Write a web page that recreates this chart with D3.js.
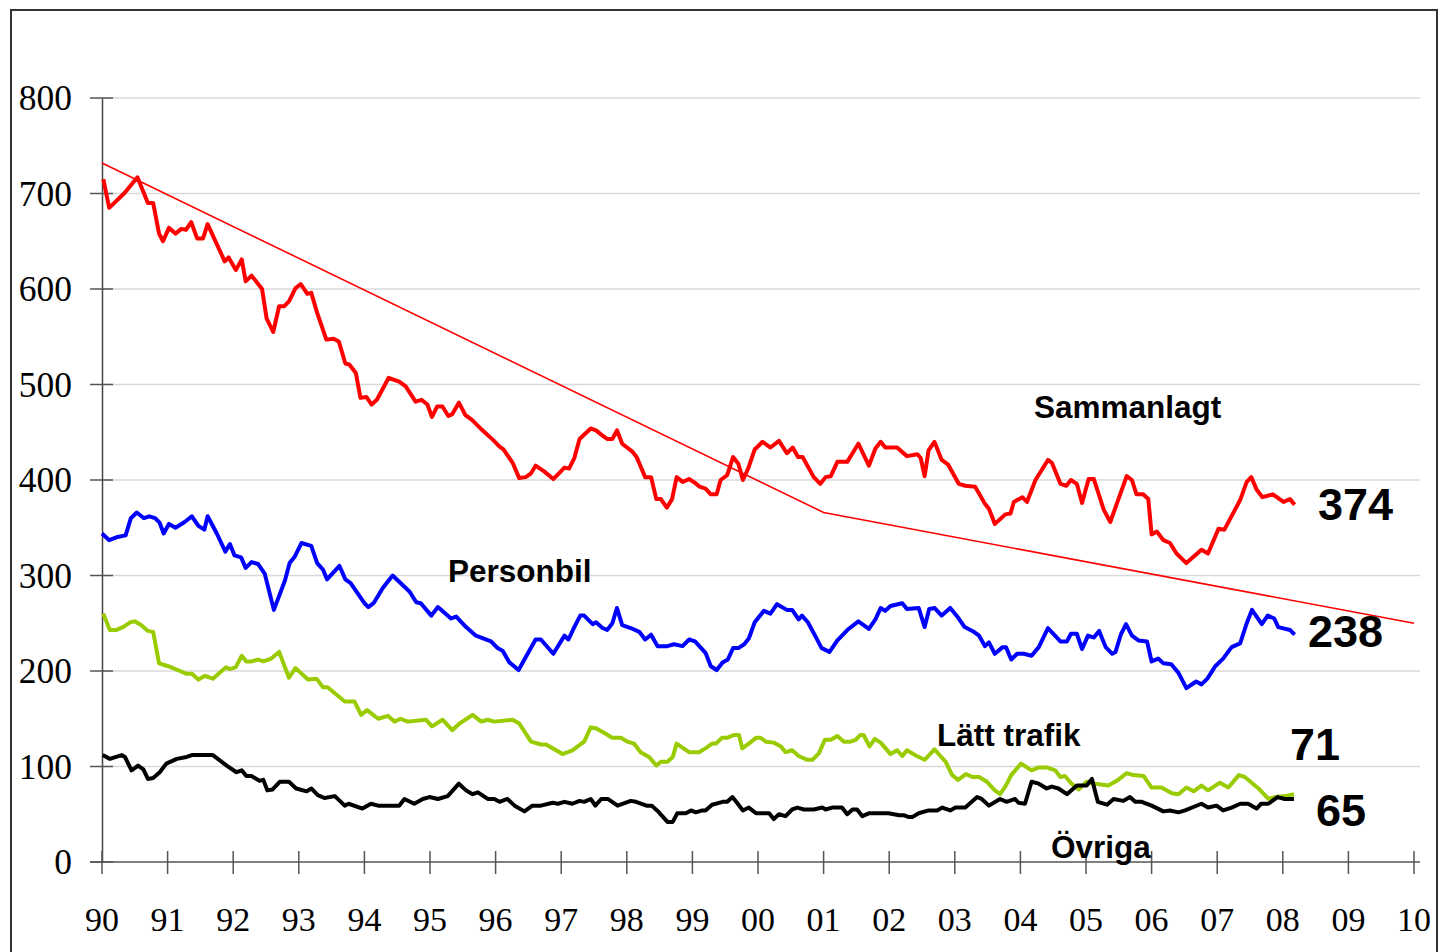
<!DOCTYPE html>
<html>
<head>
<meta charset="utf-8">
<script src="https://cdn.jsdelivr.net/npm/d3@7"></script>
<style>
  html, body { margin: 0; padding: 0; background: #fff; }
  svg { display: block; }
</style>
</head>
<body>
<script>
// ---------- DATA ----------
const yTicks = [0, 100, 200, 300, 400, 500, 600, 700, 800];
const xTickYears = [1990,1991,1992,1993,1994,1995,1996,1997,1998,1999,2000,2001,2002,2003,2004,2005,2006,2007,2008,2009,2010];
const xTickLabels = ["90","91","92","93","94","95","96","97","98","99","00","01","02","03","04","05","06","07","08","09","10"];

const trendYears = [1990, 2001, 2010];
const trendValues = [732, 366, 250];

const sammanlagtYears = [1990.02,1990.11,1990.35,1990.54,1990.70,1990.78,1990.87,1990.93,1991.02,1991.12,1991.21,1991.28,1991.36,1991.45,1991.54,1991.61,1991.87,1991.93,1992.04,1992.13,1992.19,1992.28,1992.44,1992.51,1992.61,1992.70,1992.78,1992.85,1992.95,1993.03,1993.13,1993.19,1993.28,1993.42,1993.53,1993.61,1993.71,1993.77,1993.87,1993.94,1994.03,1994.11,1994.19,1994.37,1994.53,1994.63,1994.78,1994.87,1994.96,1995.03,1995.11,1995.19,1995.28,1995.34,1995.44,1995.54,1995.64,1995.80,1995.96,1996.06,1996.12,1996.26,1996.36,1996.46,1996.54,1996.61,1996.74,1996.88,1997.05,1997.12,1997.20,1997.28,1997.45,1997.53,1997.62,1997.70,1997.78,1997.85,1997.93,1998.08,1998.15,1998.28,1998.37,1998.45,1998.52,1998.61,1998.69,1998.76,1998.85,1998.95,1999.04,1999.11,1999.20,1999.28,1999.37,1999.43,1999.53,1999.62,1999.70,1999.77,1999.85,1999.95,2000.07,2000.19,2000.32,2000.44,2000.53,2000.61,2000.68,2000.85,2000.95,2001.03,2001.11,2001.21,2001.36,2001.53,2001.69,2001.79,2001.87,2001.94,2002.12,2002.27,2002.43,2002.48,2002.54,2002.60,2002.69,2002.80,2002.90,2003.06,2003.16,2003.31,2003.46,2003.52,2003.61,2003.77,2003.85,2003.90,2004.03,2004.10,2004.23,2004.42,2004.48,2004.61,2004.70,2004.77,2004.86,2004.94,2005.04,2005.12,2005.27,2005.37,2005.62,2005.70,2005.77,2005.87,2005.95,2006.00,2006.08,2006.18,2006.28,2006.38,2006.53,2006.76,2006.86,2007.02,2007.11,2007.35,2007.45,2007.52,2007.60,2007.69,2007.85,2008.01,2008.11,2008.18];
const sammanlagtValues = [715,685,701,717,690,690,658,650,664,658,663,662,670,653,653,668,629,633,620,631,608,614,600,569,555,582,582,587,601,605,595,596,575,547,548,545,522,521,512,486,487,479,484,507,503,498,482,484,479,466,477,477,467,469,481,468,463,452,442,435,432,418,402,403,407,415,409,401,413,412,423,443,454,452,447,443,443,452,438,430,424,403,403,380,380,371,380,403,398,401,397,393,391,385,385,400,405,424,417,400,412,432,440,434,441,428,434,424,424,403,396,403,404,419,419,438,415,433,440,434,434,425,427,423,404,431,440,421,416,396,394,393,375,370,354,364,365,377,382,377,400,421,418,396,394,400,396,376,401,401,369,356,404,400,385,385,380,343,346,337,334,323,313,327,323,349,348,379,398,403,390,382,385,377,380,374];

const personbilYears = [1990.00,1990.11,1990.22,1990.36,1990.44,1990.53,1990.64,1990.72,1990.81,1990.88,1990.94,1991.02,1991.12,1991.26,1991.37,1991.47,1991.56,1991.61,1991.75,1991.88,1991.95,1992.02,1992.12,1992.19,1992.28,1992.38,1992.48,1992.62,1992.79,1992.86,1992.94,1993.04,1993.19,1993.28,1993.37,1993.43,1993.62,1993.71,1993.79,1994.00,1994.06,1994.14,1994.28,1994.43,1994.69,1994.79,1994.86,1995.02,1995.12,1995.32,1995.40,1995.55,1995.70,1995.93,1996.03,1996.11,1996.21,1996.35,1996.61,1996.69,1996.88,1997.05,1997.11,1997.20,1997.29,1997.35,1997.48,1997.53,1997.63,1997.70,1997.78,1997.85,1997.93,1998.06,1998.19,1998.28,1998.37,1998.47,1998.62,1998.72,1998.85,1998.95,1999.04,1999.20,1999.28,1999.37,1999.46,1999.54,1999.62,1999.70,1999.79,1999.86,1999.95,2000.09,2000.19,2000.29,2000.44,2000.52,2000.62,2000.67,2000.76,2000.87,2000.97,2001.09,2001.21,2001.38,2001.53,2001.69,2001.79,2001.87,2001.94,2002.02,2002.20,2002.27,2002.45,2002.54,2002.61,2002.69,2002.80,2002.93,2003.05,2003.15,2003.29,2003.37,2003.46,2003.52,2003.61,2003.73,2003.78,2003.86,2003.95,2004.05,2004.17,2004.28,2004.42,2004.61,2004.71,2004.77,2004.86,2004.94,2005.03,2005.12,2005.20,2005.30,2005.40,2005.45,2005.53,2005.61,2005.70,2005.80,2005.93,2006.00,2006.10,2006.18,2006.30,2006.41,2006.53,2006.68,2006.76,2006.85,2006.97,2007.09,2007.22,2007.35,2007.45,2007.53,2007.68,2007.77,2007.87,2007.93,2008.11,2008.18];
const personbilValues = [344,337,340,342,360,366,360,362,360,355,344,354,350,356,362,352,348,362,344,325,333,321,319,308,314,312,302,264,295,313,320,334,331,313,306,296,310,296,292,271,267,271,287,300,283,272,271,258,267,255,257,246,237,231,224,221,209,201,233,233,218,237,233,246,258,258,249,251,245,243,250,266,248,245,241,233,238,226,226,228,226,233,231,219,205,201,209,212,224,224,228,234,251,263,260,270,264,264,254,258,251,237,224,220,232,244,252,244,254,266,263,268,271,265,266,246,265,266,258,266,256,246,241,237,226,230,218,225,225,212,218,218,216,225,245,231,231,239,239,223,237,235,242,225,218,220,238,249,237,232,231,210,213,208,207,198,182,189,186,192,205,213,225,229,250,264,249,258,255,246,243,238];

const lattYears = [1990.02,1990.12,1990.22,1990.32,1990.43,1990.50,1990.60,1990.70,1990.78,1990.87,1991.01,1991.19,1991.29,1991.37,1991.47,1991.57,1991.69,1991.89,1991.95,1992.04,1992.13,1992.20,1992.28,1992.38,1992.46,1992.58,1992.70,1992.85,1992.95,1993.14,1993.27,1993.37,1993.44,1993.70,1993.85,1993.95,1994.04,1994.21,1994.36,1994.46,1994.55,1994.66,1994.94,1995.03,1995.19,1995.34,1995.45,1995.65,1995.78,1995.88,1995.98,1996.26,1996.36,1996.54,1996.69,1996.77,1997.02,1997.17,1997.35,1997.45,1997.53,1997.66,1997.78,1997.91,1998.01,1998.11,1998.21,1998.34,1998.45,1998.52,1998.62,1998.70,1998.76,1998.82,1998.95,1999.10,1999.20,1999.30,1999.36,1999.45,1999.53,1999.63,1999.71,1999.76,1999.86,1999.97,2000.04,2000.12,2000.24,2000.35,2000.42,2000.52,2000.62,2000.75,2000.83,2000.93,2001.02,2001.11,2001.21,2001.31,2001.41,2001.49,2001.56,2001.61,2001.70,2001.78,2001.87,2002.02,2002.12,2002.20,2002.27,2002.42,2002.54,2002.69,2002.86,2002.96,2003.05,2003.17,2003.27,2003.37,2003.49,2003.61,2003.69,2003.77,2003.86,2004.01,2004.17,2004.28,2004.40,2004.53,2004.61,2004.68,2004.78,2004.89,2005.01,2005.14,2005.34,2005.47,2005.62,2005.72,2005.88,2006.00,2006.15,2006.31,2006.41,2006.53,2006.64,2006.76,2006.86,2007.04,2007.17,2007.33,2007.42,2007.63,2007.78,2007.88,2008.03,2008.17];
const lattValues = [260,243,243,246,251,252,248,242,241,208,205,200,197,197,191,195,192,204,202,204,216,210,210,212,210,213,220,193,203,191,192,183,183,168,168,154,159,150,153,147,150,147,149,142,149,138,145,154,147,149,147,149,145,126,123,123,113,117,126,141,140,135,130,130,126,124,115,110,101,105,105,110,124,121,115,115,119,124,124,130,130,133,133,119,124,130,130,126,125,121,115,117,111,107,107,114,128,128,132,126,126,128,133,133,121,129,125,113,117,111,117,111,107,118,105,91,86,92,89,89,84,75,71,79,91,103,96,99,99,96,89,90,82,76,84,82,80,85,93,91,90,78,78,72,71,78,74,80,75,83,78,91,89,77,66,68,69,71];

const ovrigaYears = [1990.01,1990.12,1990.30,1990.35,1990.45,1990.55,1990.63,1990.70,1990.78,1990.88,1990.98,1991.14,1991.29,1991.37,1991.69,1991.90,1992.05,1992.13,1992.20,1992.28,1992.40,1992.46,1992.52,1992.60,1992.71,1992.85,1992.96,1993.12,1993.19,1993.29,1993.39,1993.55,1993.70,1993.76,1993.97,1994.10,1994.21,1994.53,1994.61,1994.76,1994.89,1994.99,1995.12,1995.27,1995.44,1995.55,1995.65,1995.73,1995.88,1995.98,1996.06,1996.18,1996.29,1996.44,1996.56,1996.69,1996.87,1996.95,1997.05,1997.17,1997.28,1997.35,1997.45,1997.52,1997.61,1997.71,1997.86,1998.06,1998.14,1998.30,1998.38,1998.49,1998.62,1998.70,1998.77,1998.90,1998.98,1999.05,1999.15,1999.20,1999.30,1999.46,1999.53,1999.61,1999.68,1999.77,1999.86,1999.97,2000.17,2000.24,2000.32,2000.42,2000.52,2000.60,2000.70,2000.85,2000.98,2001.03,2001.13,2001.28,2001.36,2001.44,2001.51,2001.59,2001.69,2001.99,2002.15,2002.22,2002.30,2002.35,2002.45,2002.60,2002.73,2002.81,2002.93,2003.01,2003.16,2003.34,2003.41,2003.52,2003.69,2003.79,2003.92,2003.97,2004.07,2004.17,2004.28,2004.40,2004.48,2004.58,2004.71,2004.86,2005.01,2005.09,2005.18,2005.32,2005.42,2005.57,2005.67,2005.75,2005.85,2006.00,2006.18,2006.28,2006.41,2006.51,2006.76,2006.86,2006.99,2007.09,2007.22,2007.35,2007.47,2007.60,2007.67,2007.78,2007.92,2008.03,2008.17];
const ovrigaValues = [112,108,112,110,96,101,97,87,88,94,103,108,110,112,112,101,94,96,90,90,85,86,75,76,84,84,77,74,77,70,67,69,59,61,56,61,59,59,66,61,66,68,66,69,82,75,71,73,66,66,63,66,59,53,59,59,62,61,63,61,64,63,66,59,66,66,59,64,63,59,59,52,42,42,51,51,54,52,54,54,60,63,63,68,62,54,57,51,51,45,50,48,55,57,55,55,57,55,57,57,50,55,55,48,51,51,49,49,47,47,51,54,54,57,54,57,57,68,66,59,66,63,66,62,61,84,82,77,79,77,71,80,80,87,63,60,66,64,68,63,63,59,53,54,52,54,61,57,59,54,57,61,61,56,61,61,68,66,66];

const seriesNames = ["Sammanlagt", "Personbil", "Lätt trafik", "Övriga"];
const endValues = ["374", "238", "71", "65"];

// ---------- CHART ----------
const W = 1441, H = 952;
const svg = d3.select("body").append("svg").attr("width", W).attr("height", H);

const x = d3.scaleLinear().domain([1990, 2010]).range([102, 1414]);
const y = d3.scaleLinear().domain([0, 800]).range([862, 98]);

// frame
svg.append("rect").attr("x", 11).attr("y", 10).attr("width", 1426).attr("height", 970)
  .attr("fill", "none").attr("stroke", "#333").attr("stroke-width", 2);

// gridlines
svg.append("g").selectAll("line").data(yTicks.filter(d => d > 0)).join("line")
  .attr("x1", x(1990)).attr("x2", 1420)
  .attr("y1", d => y(d)).attr("y2", d => y(d))
  .attr("stroke", "#d9d9d9").attr("stroke-width", 1.5);

// y axis
const yAxis = d3.axisLeft(y).tickValues(yTicks).tickSize(0).tickFormat("");
const gy = svg.append("g").attr("transform", `translate(${x(1990)},0)`).call(yAxis);
gy.select(".domain").attr("stroke", "#444").attr("stroke-width", 1.5);
gy.selectAll(".tick line").remove();
svg.append("g").selectAll("line").data(yTicks).join("line")
  .attr("x1", x(1990) - 12).attr("x2", x(1990) + 11)
  .attr("y1", d => y(d)).attr("y2", d => y(d))
  .attr("stroke", "#555").attr("stroke-width", 1.5);
svg.append("g").selectAll("text").data(yTicks).join("text")
  .attr("x", 72).attr("y", d => y(d) + 12)
  .attr("text-anchor", "end")
  .attr("font-family", "'Liberation Serif', 'Times New Roman', serif")
  .attr("font-size", 35.5).attr("fill", "#000")
  .text(d => d);

// x axis
const xAxis = d3.axisBottom(x).tickValues(xTickYears).tickSize(0).tickFormat("");
const gx = svg.append("g").attr("transform", `translate(0,${y(0)})`).call(xAxis);
gx.select(".domain").remove();
svg.append("line").attr("x1", 90).attr("x2", 1420).attr("y1", y(0)).attr("y2", y(0))
  .attr("stroke", "#555").attr("stroke-width", 1.5);
svg.append("g").selectAll("line").data(xTickYears).join("line")
  .attr("x1", d => x(d)).attr("x2", d => x(d))
  .attr("y1", y(0) - 11).attr("y2", y(0) + 12)
  .attr("stroke", "#555").attr("stroke-width", 1.5);
svg.append("g").selectAll("text").data(xTickYears).join("text")
  .attr("x", d => x(d)).attr("y", 931)
  .attr("text-anchor", "middle")
  .attr("font-family", "'Liberation Serif', 'Times New Roman', serif")
  .attr("font-size", 34).attr("fill", "#000")
  .text((d, i) => xTickLabels[i]);

// lines
const line = d3.line().x(d => x(d[0])).y(d => y(d[1]));
const zip = (a, b) => a.map((v, i) => [v, b[i]]);

svg.append("path").datum(zip(trendYears, trendValues))
  .attr("d", line).attr("fill", "none").attr("stroke", "#ff0000").attr("stroke-width", 1.6);

const series = [
  { years: sammanlagtYears, values: sammanlagtValues, color: "#ff0000" },
  { years: personbilYears, values: personbilValues, color: "#0000ff" },
  { years: lattYears, values: lattValues, color: "#99cc00" },
  { years: ovrigaYears, values: ovrigaValues, color: "#000000" }
];
series.forEach(s => {
  svg.append("path").datum(zip(s.years, s.values))
    .attr("d", line).attr("fill", "none")
    .attr("stroke", s.color).attr("stroke-width", 4)
    .attr("stroke-linejoin", "round").attr("stroke-linecap", "butt");
});

// series labels
const labelPos = [[1034, 418], [448, 582], [937, 746], [1051, 858]];
svg.append("g").selectAll("text").data(seriesNames).join("text")
  .attr("x", (d, i) => labelPos[i][0]).attr("y", (d, i) => labelPos[i][1])
  .attr("font-family", "'Liberation Sans', Arial, sans-serif")
  .attr("font-weight", "bold").attr("font-size", 31.5).attr("fill", "#000")
  .text(d => d);

// end values
const endPos = [[1318, 520], [1308, 647], [1290, 760], [1316, 826]];
svg.append("g").selectAll("text").data(endValues).join("text")
  .attr("x", (d, i) => endPos[i][0]).attr("y", (d, i) => endPos[i][1])
  .attr("font-family", "'Liberation Sans', Arial, sans-serif")
  .attr("font-weight", "bold").attr("font-size", 45).attr("fill", "#000")
  .text(d => d);
</script>
</body>
</html>
